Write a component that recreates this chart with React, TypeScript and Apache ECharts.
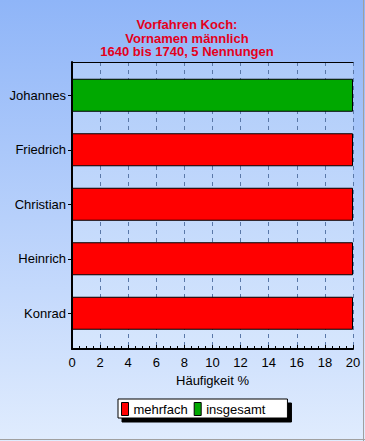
import React, { useEffect, useRef } from "react";
import * as echarts from "echarts";

const categories = ["Johannes", "Friedrich", "Christian", "Heinrich", "Konrad"];
const mehrfach: (number | string)[] = ["-", 20, 20, 20, 20];
const insgesamt: (number | string)[] = [20, "-", "-", "-", "-"];
const titleLines = ["Vorfahren Koch:", "Vornamen männlich", "1640 bis 1740, 5 Nennungen"];

export default function App() {
  const ref = useRef<HTMLDivElement>(null);
  useEffect(() => {
    if (!ref.current) return;
    const chart = echarts.init(ref.current, null, { renderer: "svg" });
    const font = "Arial, 'Liberation Sans', sans-serif";
    chart.setOption({
      animation: false,
      backgroundColor: new echarts.graphic.LinearGradient(0, 0, 0, 1, [
        { offset: 0, color: "#8fb5f8" },
        { offset: 1, color: "#e0ecfe" },
      ]),
      textStyle: { fontFamily: font },
      title: {
        text: titleLines.join("\n"),
        left: 182,
        textAlign: "center",
        top: 13,
        textStyle: {
          color: "#e4001c",
          fontSize: 13,
          fontWeight: "bold",
          lineHeight: 13.5,
          fontFamily: font,
        },
      },
      legend: {
        left: 118,
        top: 399,
        orient: "horizontal",
        data: ["mehrfach", "insgesamt"],
        icon: "rect",
        itemWidth: 7,
        itemHeight: 13,
        itemGap: 6,
        padding: [3, 22, 2, 3],
        backgroundColor: "#ffffff",
        borderColor: "#000000",
        borderWidth: 1,
        shadowColor: "#000000",
        shadowBlur: 0,
        shadowOffsetX: 4,
        shadowOffsetY: 4,
        textStyle: { color: "#000", fontSize: 13, fontFamily: font },
        itemStyle: { borderColor: "#000", borderWidth: 1 },
      },
      grid: [
        {
          left: 72,
          right: 12,
          top: 62,
          bottom: 92,
          show: true,
          borderWidth: 0,
          backgroundColor: new echarts.graphic.LinearGradient(0, 0, 0, 1, [
            { offset: 0, color: "#aecbfa" },
            { offset: 1, color: "#d6e6fd" },
          ]),
        },
        { left: 72, right: 12, top: 68, height: 272.5 },
      ],
      xAxis: [
        {
          gridIndex: 0,
          type: "value",
          min: 0,
          max: 20,
          interval: 2,
          position: "bottom",
          name: "Häufigkeit %",
          nameLocation: "middle",
          nameGap: 24,
          nameTextStyle: { color: "#000", fontSize: 13, fontFamily: font },
          axisLine: { show: true, lineStyle: { color: "#000", width: 2 } },
          axisTick: { show: true, inside: true, length: 4, lineStyle: { color: "#000" } },
          minorTick: { show: true, splitNumber: 4, length: 3, lineStyle: { color: "#000" } },
          axisLabel: { color: "#000", fontSize: 13, margin: 7, fontFamily: font },
          splitLine: { show: true, lineStyle: { color: "#5a78a8", type: [4, 4], width: 1 } },
        },
        {
          gridIndex: 0,
          type: "value",
          min: 0,
          max: 20,
          position: "top",
          axisLine: { show: true, lineStyle: { color: "#000", width: 1 } },
          axisTick: { show: false },
          axisLabel: { show: false },
          splitLine: { show: false },
        },
        {
          gridIndex: 1,
          type: "value",
          min: 0,
          max: 20,
          show: false,
        },
      ],
      yAxis: [
        {
          gridIndex: 0,
          type: "value",
          min: 0,
          max: 1,
          axisLine: { show: true, lineStyle: { color: "#000", width: 2 } },
          axisTick: { show: false },
          axisLabel: { show: false },
          splitLine: { show: false },
        },
        {
          gridIndex: 1,
          type: "category",
          data: categories,
          inverse: true,
          axisLine: { show: false },
          axisTick: { show: true, alignWithLabel: true, length: 4, lineStyle: { color: "#000" } },
          axisLabel: { color: "#000", fontSize: 13, margin: 6, fontFamily: font },
          splitLine: { show: false },
        },
      ],
      series: [
        {
          name: "mehrfach",
          type: "bar",
          xAxisIndex: 2,
          yAxisIndex: 1,
          data: mehrfach,
          barWidth: 33,
          barGap: "-100%",
          itemStyle: { color: "#ff0000", borderColor: "#000", borderWidth: 1 },
        },
        {
          name: "insgesamt",
          type: "bar",
          xAxisIndex: 2,
          yAxisIndex: 1,
          data: insgesamt,
          barWidth: 33,
          barGap: "-100%",
          itemStyle: { color: "#00a800", borderColor: "#000", borderWidth: 1 },
        },
      ],
      graphic: [
        { type: "line", shape: { x1: 363.5, y1: 0, x2: 363.5, y2: 441 }, style: { stroke: "#a0a0a0", lineWidth: 1 } },
        { type: "line", shape: { x1: 0, y1: 439.5, x2: 365, y2: 439.5 }, style: { stroke: "#a0a0a0", lineWidth: 1 } },
      ],
    });
    return () => chart.dispose();
  }, []);
  return (
    <div
      ref={ref}
      style={{ position: "absolute", left: 0, top: 0, width: 365, height: 441 }}
    />
  );
}
